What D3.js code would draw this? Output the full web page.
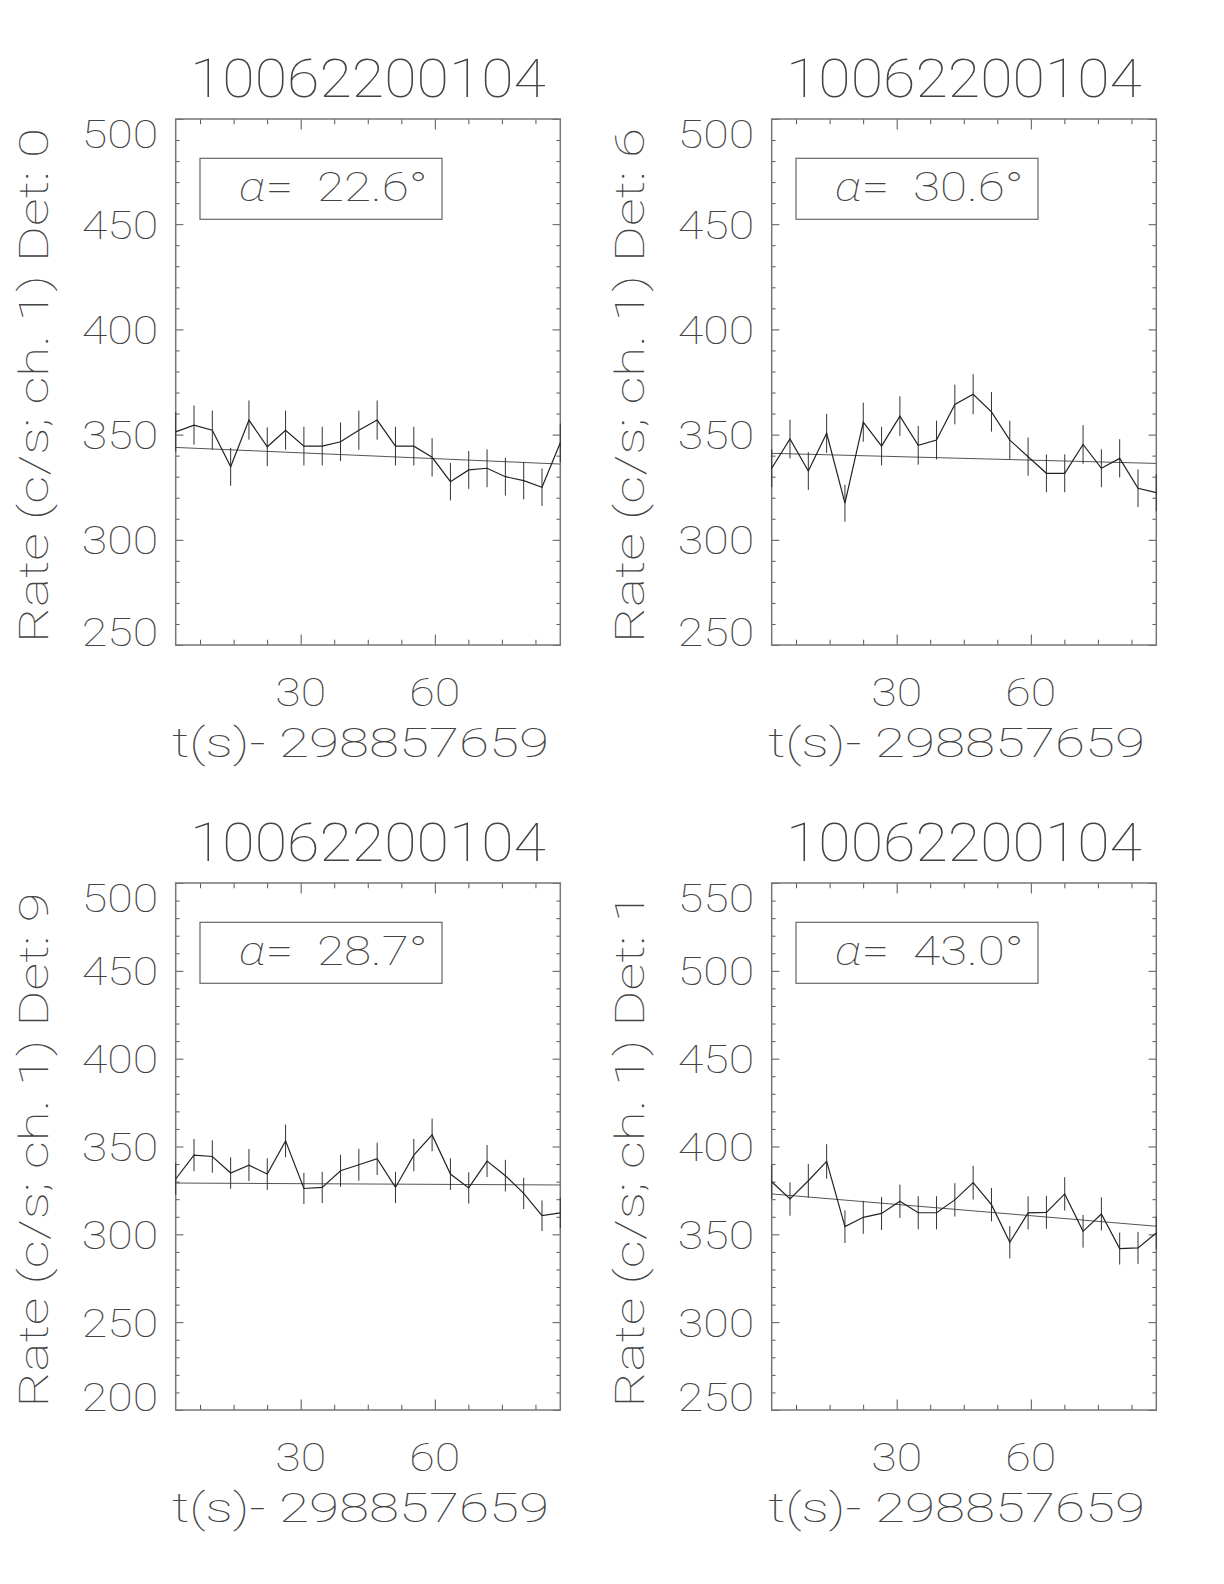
<!DOCTYPE html>
<html><head><meta charset="utf-8">
<script src="https://cdn.jsdelivr.net/npm/d3@7"></script>
<style>
html,body{margin:0;padding:0;background:#fff;}
text{font-family:"Roboto Thin","Lato Hairline","DejaVu Sans ExtraLight","Roboto Light","Lato Light","Roboto",sans-serif;font-weight:100;fill:#444;white-space:pre;}
</style></head>
<body>
<script>
// ---------- DATA ----------
const obsId = "10062200104";
const xLabel = "t(s)- 298857659";
const times = [2.05, 6.14, 10.24, 14.34, 18.43, 22.53, 26.62, 30.72, 34.82, 38.91, 43.01,
               47.10, 51.20, 55.30, 59.39, 63.49, 67.58, 71.68, 75.78, 79.87, 83.97, 88.06];
const xMajorTicks = [30, 60];
const xMinorTicks = [7.5, 15, 22.5, 37.5, 45, 52.5, 67.5, 75, 82.5];

const dets = [0, 6, 9, 1];
const alphas = ["22.6", "30.6", "28.7", "43.0"];
const yDomains = [[250, 500], [250, 500], [200, 500], [250, 550]];

const rates0 = [351.3,354.5,352.1,334.7,356.9,344.2,352.1,344.5,344.5,346.6,352.1,356.9,344.5,344.5,339.2,327.6,333.2,334.0,330.0,328.1,325.0,346.1];
const errs0  = [9.3,9.3,9.3,9.0,9.3,9.2,9.3,9.2,9.2,9.2,9.3,9.3,9.2,9.2,9.1,8.9,9.0,9.0,9.0,8.9,8.9,9.2];
const fit0   = [343.9, 336.0];

const rates1 = [334.0,347.9,332.7,350.6,317.4,355.9,344.5,358.8,344.9,347.4,364.3,369.2,360.8,347.4,339.5,331.6,331.6,345.3,334.0,338.7,324.5,322.4];
const errs1  = [9.0,9.2,9.0,9.3,8.8,9.3,9.2,9.4,9.2,9.2,9.4,9.5,9.4,9.2,9.1,9.0,9.0,9.2,9.0,9.1,8.9,8.9];
const fit1   = [341.1, 336.3];

const rates2 = [331.5,345.1,344.3,334.9,339.4,334.3,353.2,326.1,326.7,336.2,339.6,343.0,326.7,345.1,356.6,334.3,326.4,341.7,333.4,323.3,310.6,312.2];
const errs2  = [9.0,9.2,9.2,9.0,9.1,9.0,9.3,8.9,8.9,9.1,9.1,9.2,8.9,9.2,9.3,9.0,8.9,9.1,9.0,8.9,8.7,8.7];
const fit2   = [329.2, 328.1];

const rates3 = [379.9,370.1,380.5,391.5,354.4,359.7,361.9,368.8,362.3,362.3,369.6,379.4,366.9,345.5,362.2,362.5,373.0,351.7,361.6,341.9,342.3,350.8];
const errs3  = [9.6,9.5,9.6,9.8,9.3,9.4,9.4,9.5,9.4,9.4,9.5,9.6,9.5,9.2,9.4,9.4,9.5,9.3,9.4,9.1,9.1,9.3];
const fit3   = [373.0, 354.6];

const allRates = [rates0, rates1, rates2, rates3];
const allErrs = [errs0, errs1, errs2, errs3];
const allFits = [fit0, fit1, fit2, fit3];

// ---------- LAYOUT ----------
const W = 1224, H = 1584;
const cols = [{x0: 175.7, x1: 560.3}, {x0: 771.7, x1: 1156.3}];
const rows = [{y0: 119, y1: 645}, {y0: 883, y1: 1410}];

const svg = d3.select("body").append("svg")
  .attr("width", W).attr("height", H)
  .style("background", "#fff");

const frameColor = "#777";

dets.forEach((det, i) => {
  const c = cols[i % 2], r = rows[Math.floor(i / 2)];
  const {x0, x1} = c, {y0, y1} = r;
  const x = d3.scaleLinear().domain([times[0], times[times.length - 1]]).range([x0, x1]);
  const y = d3.scaleLinear().domain(yDomains[i]).range([y1, y0]);
  const g = svg.append("g");

  const xTL = 0.02 * (y1 - y0), yTL = 0.02 * (x1 - x0);
  const yMajor = d3.range(yDomains[i][0], yDomains[i][1] + 0.1, 50);
  const yMinor = d3.range(yDomains[i][0], yDomains[i][1] + 0.1, 10).filter(v => v % 50 !== 0);

  const addAxis = (axis, tr) => {
    const a = g.append("g").attr("transform", tr).call(axis);
    a.select(".domain").remove();
    a.selectAll(".tick line").attr("stroke", "#555").attr("stroke-width", 1);
    a.selectAll(".tick text").remove();
  };
  addAxis(d3.axisBottom(x).tickValues(xMajorTicks).tickSize(-xTL), `translate(0,${y1})`);
  addAxis(d3.axisBottom(x).tickValues(xMinorTicks).tickSize(-xTL / 2), `translate(0,${y1})`);
  addAxis(d3.axisTop(x).tickValues(xMajorTicks).tickSize(-xTL), `translate(0,${y0})`);
  addAxis(d3.axisTop(x).tickValues(xMinorTicks).tickSize(-xTL / 2), `translate(0,${y0})`);
  addAxis(d3.axisLeft(y).tickValues(yMajor).tickSize(-yTL), `translate(${x0},0)`);
  addAxis(d3.axisLeft(y).tickValues(yMinor).tickSize(-yTL / 2), `translate(${x0},0)`);
  addAxis(d3.axisRight(y).tickValues(yMajor).tickSize(-yTL), `translate(${x1},0)`);
  addAxis(d3.axisRight(y).tickValues(yMinor).tickSize(-yTL / 2), `translate(${x1},0)`);

  // frame
  g.append("rect").attr("x", x0).attr("y", y0).attr("width", x1 - x0).attr("height", y1 - y0)
    .attr("fill", "none").attr("stroke", frameColor).attr("stroke-width", 1.5);

  // fit line
  const fit = allFits[i];
  g.append("line")
    .attr("x1", x(times[0])).attr("y1", y(fit[0]))
    .attr("x2", x(times[times.length - 1])).attr("y2", y(fit[1]))
    .attr("stroke", "#555").attr("stroke-width", 1);

  // error bars
  const rates = allRates[i], errs = allErrs[i];
  g.selectAll(".eb").data(times).enter().append("line")
    .attr("x1", d => x(d)).attr("x2", d => x(d))
    .attr("y1", (d, k) => y(rates[k] - errs[k]))
    .attr("y2", (d, k) => y(rates[k] + errs[k]))
    .attr("stroke", "#333").attr("stroke-width", 1);

  // data line
  const line = d3.line().x((d, k) => x(times[k])).y(d => y(d));
  g.append("path").datum(rates).attr("d", line)
    .attr("fill", "none").attr("stroke", "#222").attr("stroke-width", 1.2);

  // y tick labels
  yMajor.forEach(v => {
    let b = y(v) + 14.5;
    b = Math.max(y0 + 29, Math.min(y1 + 1, b));
    const s = String(v);
    g.append("text").attr("x", x0 - 17.5 - s.length * 25.5).attr("y", b)
      .attr("font-size", 39).attr("textLength", s.length * 25.5).attr("lengthAdjust", "spacingAndGlyphs")
      .text(s);
  });
  // x tick labels
  xMajorTicks.forEach(v => {
    const s = String(v);
    g.append("text").attr("x", x(v) - s.length * 25.5 / 2).attr("y", y1 + 61)
      .attr("font-size", 39).attr("textLength", s.length * 25.5).attr("lengthAdjust", "spacingAndGlyphs")
      .text(s);
  });

  const cx = (x0 + x1) / 2;
  // title
  g.append("text").attr("x", cx - 178).attr("y", y0 - 22)
    .attr("font-size", 53).attr("textLength", 356).attr("lengthAdjust", "spacingAndGlyphs")
    .text(obsId);
  // x title
  g.append("text").attr("x", cx - 8 - 188).attr("y", y1 + 112)
    .attr("font-size", 40).attr("textLength", 377).attr("lengthAdjust", "spacingAndGlyphs")
    .text(xLabel);
  // y title
  const ty = (y0 + y1) / 2 + 4, tx = x0 - 128;
  g.append("text").attr("transform", `translate(${tx},${ty}) rotate(-90)`)
    .attr("x", -257).attr("y", 0)
    .attr("font-size", 40).attr("textLength", 515).attr("lengthAdjust", "spacingAndGlyphs")
    .text(`Rate (c/s; ch. 1) Det: ${det}`);

  // legend box
  g.append("rect").attr("x", x0 + 24.3).attr("y", y0 + 39.3).attr("width", 242).attr("height", 61)
    .attr("fill", "none").attr("stroke", "#666").attr("stroke-width", 1.2);
  const lt = g.append("text").attr("x", x0 + 63).attr("y", y0 + 81.5)
    .attr("font-size", 40).attr("textLength", 189).attr("lengthAdjust", "spacingAndGlyphs");
  lt.append("tspan").attr("font-style", "italic").text("α");
  lt.append("tspan").text(`=  ${alphas[i]}°`);
});
</script>
</body></html>
